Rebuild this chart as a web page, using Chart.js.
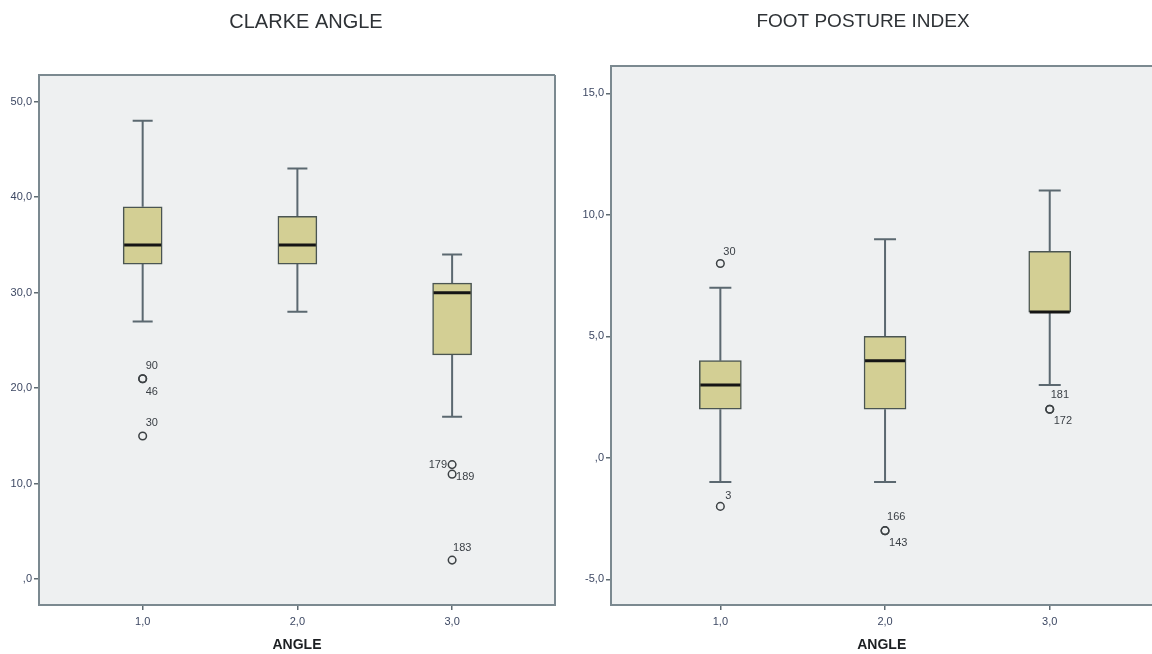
<!DOCTYPE html>
<html>
<head>
<meta charset="utf-8">
<style>
  html, body { margin: 0; padding: 0; background: #fff; overflow: hidden; width: 1152px; height: 654px; }
  canvas { position: absolute; top: 0; }
  #clarke { left: 0; }
  #fpi { left: 574px; }
</style>
</head>
<body>
<canvas id="clarke" width="612" height="654"></canvas>
<canvas id="fpi" width="584" height="654"></canvas>
<script src="https://cdn.jsdelivr.net/npm/chart.js"></script>
<script>
    // groups on the x axis
    const angleGroups = [1, 2, 3];

    // CLARKE ANGLE box stats
    const clarkeLow = [27, 28, 17];
    const clarkeQ1 = [33, 33, 23.5];
    const clarkeMedian = [35, 35, 30];
    const clarkeQ3 = [39, 38, 31];
    const clarkeHigh = [48, 43, 34];
    const clarkeOutGroup = [1, 1, 1, 3, 3, 3];
    const clarkeOutValue = [21, 21, 15, 12, 11, 2];
    const clarkeOutCase = ['90', '46', '30', '179', '189', '183'];
    const clarkeTicks = [0, 10, 20, 30, 40, 50];

    // FOOT POSTURE INDEX box stats
    const fpiLow = [-1, -1, 3];
    const fpiQ1 = [2, 2, 6];
    const fpiMedian = [3, 4, 6];
    const fpiQ3 = [4, 5, 8.5];
    const fpiHigh = [7, 9, 11];
    const fpiOutGroup = [1, 1, 2, 2, 3, 3];
    const fpiOutValue = [8, -2, -3, -3, 2, 2];
    const fpiOutCase = ['30', '3', '166', '143', '181', '172'];
    const fpiTicks = [-5, 0, 5, 10, 15];

    // where the case numbers sit next to their circle (dx, dy, align)
    const clarkeLabelPos = [[3, -13, 'left'], [3, 13, 'left'], [3, -13, 'left'], [-5, 0, 'right'], [4, 3, 'left'], [1, -12, 'left']];
    const fpiLabelPos = [[3, -12, 'left'], [5, -10, 'left'], [2, -14, 'left'], [4, 12, 'left'], [1, -14, 'left'], [4, 12, 'left']];

    const FONT = "'Liberation Sans', Arial, sans-serif";

    function spssNumber(v) {
        if (v === 0) return ',0';
        return v.toFixed(1).replace('.', ',');
    }

    const boxExtras = {
        id: 'boxExtras',
        beforeDraw(chart, args, o) {
            const a = chart.chartArea, ctx = chart.ctx;
            ctx.save();
            ctx.fillStyle = '#eef0f1';
            ctx.fillRect(a.left, a.top, a.right - a.left, a.bottom - a.top);
            // panel title
            ctx.fillStyle = '#2e3236';
            ctx.font = o.titleSize + 'px ' + FONT;
            ctx.textAlign = 'center';
            ctx.textBaseline = 'middle';
            ctx.fillText(o.title, o.titleX, 22);
            ctx.restore();
        },
        beforeDatasetsDraw(chart, args, o) {
            const xs = chart.scales.x, ys = chart.scales.y, ctx = chart.ctx;
            const cap = o.capWidth / 2;
            ctx.save();
            ctx.strokeStyle = '#5b6870';
            ctx.lineWidth = 2;
            o.groups.forEach((g, i) => {
                const px = xs.getPixelForValue(g);
                [[o.q3[i], o.high[i]], [o.q1[i], o.low[i]]].forEach(([from, to]) => {
                    const y1 = ys.getPixelForValue(from), y2 = ys.getPixelForValue(to);
                    ctx.beginPath();
                    ctx.moveTo(px, y1);
                    ctx.lineTo(px, y2);
                    ctx.moveTo(px - cap, y2);
                    ctx.lineTo(px + cap, y2);
                    ctx.stroke();
                });
            });
            ctx.restore();
        },
        afterDatasetsDraw(chart, args, o) {
            const xs = chart.scales.x, ys = chart.scales.y, ctx = chart.ctx, a = chart.chartArea;
            const half = o.boxWidth / 2 - 1;
            ctx.save();
            // medians
            ctx.strokeStyle = '#151515';
            ctx.lineWidth = 3;
            o.groups.forEach((g, i) => {
                const px = xs.getPixelForValue(g), py = ys.getPixelForValue(o.median[i]);
                ctx.beginPath();
                ctx.moveTo(px - half, py);
                ctx.lineTo(px + half, py);
                ctx.stroke();
            });
            // case numbers of outliers
            ctx.fillStyle = '#3a3f45';
            ctx.font = '11px ' + FONT;
            ctx.textBaseline = 'middle';
            o.outCase.forEach((txt, i) => {
                const p = o.labelPos[i];
                ctx.textAlign = p[2];
                ctx.fillText(txt, xs.getPixelForValue(o.outGroup[i]) + p[0], ys.getPixelForValue(o.outValue[i]) + p[1]);
            });
            // frame
            ctx.strokeStyle = '#7b8990';
            ctx.lineWidth = 2;
            ctx.beginPath();
            ctx.moveTo(a.right + (o.rightEdge ? 0 : 10), a.top);
            ctx.lineTo(a.left, a.top);
            ctx.lineTo(a.left, a.bottom);
            ctx.lineTo(a.right + (o.rightEdge ? 0 : 10), a.bottom);
            if (o.rightEdge) {
                ctx.lineTo(a.right, a.top);
            }
            ctx.stroke();
            ctx.restore();
        }
    };
    Chart.register(boxExtras);

    function makeBoxChart(id, s) {
        const boxes = angleGroups.map((g, i) => ({ x: g, y: [s.q1[i], s.q3[i]] }));
        const outliers = s.outGroup.map((g, i) => ({ x: g, y: s.outValue[i] }));
        return new Chart(document.getElementById(id), {
            type: 'bar',
            data: {
                datasets: [{
                    type: 'bar',
                    data: boxes,
                    backgroundColor: '#d3cf94',
                    borderColor: '#4a5552',
                    borderWidth: 1.5,
                    borderSkipped: false,
                    barThickness: s.boxWidth
                }, {
                    type: 'scatter',
                    data: outliers,
                    pointRadius: 3.8,
                    pointBorderWidth: 1.5,
                    pointBorderColor: '#3c4144',
                    pointBackgroundColor: 'rgba(0,0,0,0)'
                }]
            },
            options: {
                responsive: false,
                animation: false,
                layout: { padding: { left: 0, right: s.padRight, top: s.padTop, bottom: 0 } },
                plugins: {
                    legend: { display: false },
                    tooltip: { enabled: false },
                    title: { display: false },
                    boxExtras: {
                        title: s.title,
                        titleX: s.titleX,
                        titleSize: s.titleSize,
                        groups: angleGroups,
                        low: s.low, q1: s.q1, median: s.median, q3: s.q3, high: s.high,
                        outGroup: s.outGroup, outValue: s.outValue, outCase: s.outCase,
                        labelPos: s.labelPos,
                        boxWidth: s.boxWidth,
                        capWidth: s.capWidth,
                        rightEdge: s.rightEdge
                    }
                },
                scales: {
                    x: {
                        type: 'linear',
                        offset: false,
                        min: s.xMin,
                        max: s.xMax,
                        afterFit: sc => { sc.height = 49; },
                        afterBuildTicks: sc => { sc.ticks = angleGroups.map(v => ({ value: v })); },
                        border: { display: false },
                        grid: { offset: false, drawOnChartArea: false, drawTicks: true, tickLength: 5, color: '#5f6b72', lineWidth: 1.5 },
                        ticks: {
                            padding: 5,
                            color: '#3d4863',
                            font: { family: FONT, size: 11 },
                            callback: v => spssNumber(v)
                        },
                        title: {
                            display: true,
                            text: 'ANGLE',
                            color: '#1c1f22',
                            font: { family: FONT, size: 14, weight: 'bold' },
                            padding: { top: 0, bottom: 0 }
                        }
                    },
                    y: {
                        type: 'linear',
                        min: s.yMin,
                        max: s.yMax,
                        afterFit: sc => { sc.width = s.yWidth; },
                        afterBuildTicks: sc => { sc.ticks = s.ticks.map(v => ({ value: v })); },
                        border: { display: false },
                        grid: { drawOnChartArea: false, drawTicks: true, tickLength: 5, color: '#5f6b72', lineWidth: 1.5 },
                        ticks: {
                            padding: 2,
                            color: '#3d4863',
                            font: { family: FONT, size: 11 },
                            callback: v => spssNumber(v)
                        }
                    }
                }
            }
        });
    }

    makeBoxChart('clarke', {
        title: 'CLARKE ANGLE',
        titleX: 306,
        titleSize: 20,
        low: clarkeLow, q1: clarkeQ1, median: clarkeMedian, q3: clarkeQ3, high: clarkeHigh,
        outGroup: clarkeOutGroup, outValue: clarkeOutValue, outCase: clarkeOutCase,
        labelPos: clarkeLabelPos,
        ticks: clarkeTicks,
        xMin: 0.33, xMax: 3.665,
        yMin: -2.7, yMax: 52.8,
        yWidth: 39,
        padRight: 57,
        padTop: 75,
        boxWidth: 39,
        capWidth: 20,
        rightEdge: true
    });

    makeBoxChart('fpi', {
        title: 'FOOT POSTURE INDEX',
        titleX: 289,
        titleSize: 19,
        low: fpiLow, q1: fpiQ1, median: fpiMedian, q3: fpiQ3, high: fpiHigh,
        outGroup: fpiOutGroup, outValue: fpiOutValue, outCase: fpiOutCase,
        labelPos: fpiLabelPos,
        ticks: fpiTicks,
        xMin: 0.336, xMax: 3.624,
        yMin: -6.06, yMax: 16.13,
        yWidth: 37,
        padRight: 0,
        padTop: 66,
        boxWidth: 42,
        capWidth: 22,
        rightEdge: false
    });
</script>
</body>
</html>
